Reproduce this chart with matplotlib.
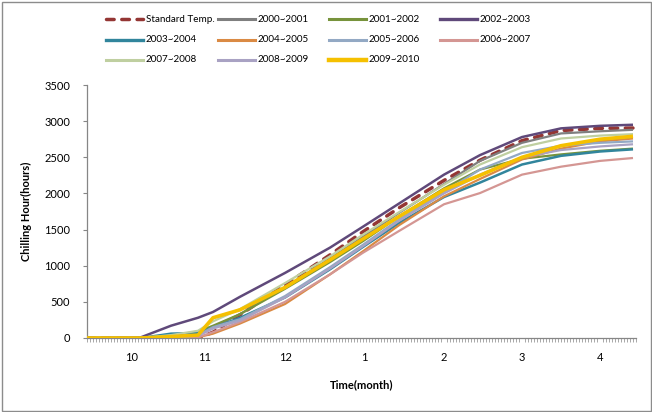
import matplotlib
matplotlib.use("Agg")
import matplotlib.pyplot as plt
from matplotlib.lines import Line2D
from matplotlib.patches import Rectangle

plt.rcParams['font.family'] = ['Lato', 'DejaVu Sans']

# day index along the category axis (one tick per day)
days = [0, 18, 28, 37, 42, 51, 66, 81, 92, 104, 119, 131, 145, 158, 171, 182]

month_pos = [14.7, 39.3, 66, 92.3, 119, 145, 171]
month_labels = ['10', '11', '12', '1', '2', '3', '4']

names = ['Standard Temp.', '2000~2001', '2001~2002', '2002~2003',
         '2003~2004', '2004~2005', '2005~2006', '2006~2007',
         '2007~2008', '2008~2009', '2009~2010']

standard = [0, 0, 0, 0, 80, 320, 735, 1150, 1470, 1800, 2180, 2460, 2730, 2870, 2900, 2905]
y0001 = [0, 0, 0, 60, 150, 330, 700, 1100, 1400, 1730, 2130, 2450, 2700, 2830, 2860, 2880]
y0102 = [0, 0, 30, 90, 170, 330, 680, 1050, 1340, 1680, 2070, 2330, 2480, 2540, 2590, 2620]
y0203 = [0, 10, 170, 280, 360, 570, 900, 1250, 1540, 1860, 2260, 2530, 2780, 2900, 2935, 2950]
y0304 = [0, 0, 60, 70, 140, 280, 560, 950, 1260, 1590, 1950, 2150, 2400, 2520, 2580, 2610]
y0405 = [0, 0, 0, 10, 60, 200, 470, 880, 1200, 1560, 1960, 2200, 2470, 2620, 2720, 2760]
y0506 = [0, 0, 10, 40, 150, 260, 580, 980, 1290, 1640, 2020, 2330, 2560, 2660, 2700, 2720]
y0607 = [0, 0, 0, 10, 80, 220, 500, 880, 1180, 1480, 1850, 2005, 2260, 2370, 2450, 2490]
y0708 = [0, 0, 40, 100, 230, 400, 760, 1130, 1430, 1740, 2120, 2400, 2640, 2760, 2800, 2820]
y0809 = [0, 0, 10, 30, 130, 240, 560, 960, 1270, 1620, 2000, 2260, 2500, 2600, 2650, 2680]
y0910 = [0, 0, 20, 40, 280, 390, 700, 1080, 1370, 1680, 2050, 2250, 2500, 2660, 2750, 2790]

series = [standard, y0001, y0102, y0203, y0304, y0405, y0506, y0607, y0708, y0809, y0910]
colors = ['#943634', '#7F7F7F', '#77933C', '#5F497A', '#31859C', '#DA8A44',
          '#93A9C4', '#D49693', '#BFCFA0', '#A9A2C3', '#F5C000']
widths = [2.5, 1.6, 1.6, 1.8, 1.8, 1.6, 1.6, 1.6, 1.6, 1.6, 2.6]

W, H = 652, 412
fig = plt.figure(figsize=(W / 100, H / 100), dpi=100)
ax = fig.add_axes([87 / W, 1 - 338 / H, (636 - 87) / W, (338 - 85) / H])

for i in range(len(series)):
    if i == 0:
        ax.plot(days, series[i], color=colors[i], lw=widths[i],
                linestyle=(0, (2.2, 2.2)), dash_capstyle='round', zorder=2)
    else:
        ax.plot(days, series[i], color=colors[i], lw=widths[i],
                solid_capstyle='butt', zorder=2 + i)

ax.set_xlim(0, 183)
ax.set_ylim(0, 3500)
ax.set_yticks(range(0, 3501, 500))
ax.set_xticks(month_pos)
ax.set_xticklabels(month_labels)
ax.set_xticks(range(0, 184), minor=True)

for s in ['top', 'right']:
    ax.spines[s].set_visible(False)
for s in ['left', 'bottom']:
    ax.spines[s].set_color('#868686')
    ax.spines[s].set_linewidth(0.9)

ax.tick_params(axis='y', length=3, color='#868686', labelsize=8, pad=9)
ax.tick_params(axis='x', which='major', length=0, labelsize=8, pad=10)
ax.tick_params(axis='x', which='minor', length=3, width=0.5, color='#868686')

ax.set_ylabel('Chilling Hour(hours)', fontsize=8, fontweight='bold', labelpad=9)
ax.set_xlabel('Time(month)', fontsize=8, fontweight='bold', labelpad=12)

# legend drawn by hand in pixel positions (3 rows x 4 columns)
col_x = [106, 218, 329, 440]
row_y = [19, 40, 60]
for i in range(len(names)):
    r, c = divmod(i, 4)
    x0 = col_x[c]
    yy = 1 - row_y[r] / H
    if i == 0:
        ln = Line2D([x0 / W, (x0 + 37) / W], [yy, yy], transform=fig.transFigure,
                    color=colors[i], lw=widths[i], linestyle=(0, (2.2, 2.2)),
                    dash_capstyle='round')
    else:
        ln = Line2D([x0 / W, (x0 + 37) / W], [yy, yy], transform=fig.transFigure,
                    color=colors[i], lw=widths[i] + 0.6)
    fig.add_artist(ln)
    fig.text((x0 + 40) / W, yy, names[i], fontsize=7.1, va='center', ha='left',
             zorder=5)

fig.add_artist(Rectangle((1.5 / W, 1.5 / H), 1 - 3 / W, 1 - 3 / H, transform=fig.transFigure,
                         fill=False, edgecolor='#8C8C8C', lw=1))

fig.savefig('out.png', dpi=100)
